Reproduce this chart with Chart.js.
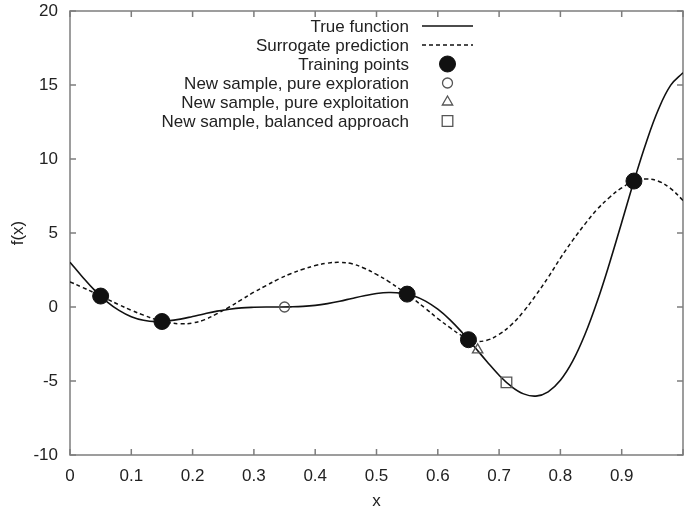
<!DOCTYPE html>
<html>
<head>
<meta charset="utf-8">
<script src="https://cdn.jsdelivr.net/npm/chart.js@4.4.1/dist/chart.umd.min.js"></script>
<style>
  html, body { margin: 0; padding: 0; background: #fff; overflow: hidden; }
  canvas { display: block; }
</style>
</head>
<body>
<canvas id="fx" width="684" height="515"></canvas>
<script>
// x positions of the sampled curves
const xGrid = [0, 0.02, 0.04, 0.06, 0.08, 0.10, 0.12, 0.14, 0.16, 0.18,
  0.20, 0.22, 0.24, 0.26, 0.28, 0.30, 0.32, 0.34, 0.36, 0.38,
  0.40, 0.42, 0.44, 0.46, 0.48, 0.50, 0.52, 0.54, 0.56, 0.58,
  0.60, 0.62, 0.64, 0.66, 0.68, 0.70, 0.72, 0.74, 0.76, 0.78,
  0.80, 0.82, 0.84, 0.86, 0.88, 0.90, 0.92, 0.94, 0.96, 0.98, 1.00];

// true function values
const trueVals = [3.03, 2.05, 1.14, 0.37, -0.23, -0.66, -0.90, -0.99, -0.94, -0.82,
  -0.64, -0.45, -0.28, -0.15, -0.06, -0.02, 0, 0, 0.01, 0.04,
  0.11, 0.23, 0.39, 0.58, 0.76, 0.91, 0.98, 0.94, 0.76, 0.40,
  -0.15, -0.87, -1.74, -2.70, -3.68, -4.61, -5.37, -5.87, -6.02, -5.73,
  -4.95, -3.66, -1.86, 0.37, 2.94, 5.71, 8.51, 11.12, 13.36, 14.99, 15.83];

// surrogate (dashed) values
const surrogateVals = [1.70, 1.33, 0.95, 0.55, 0.15, -0.22, -0.55, -0.85, -1.05, -1.13,
  -1.08, -0.85, -0.45, 0.00, 0.50, 1.00, 1.45, 1.88, 2.25, 2.55,
  2.80, 2.96, 3.02, 2.92, 2.62, 2.20, 1.72, 1.15, 0.55, -0.10,
  -0.78, -1.40, -1.95, -2.30, -2.25, -1.85, -1.20, -0.30, 0.80, 2.00,
  3.30, 4.50, 5.60, 6.60, 7.40, 8.05, 8.50, 8.65, 8.50, 8.00, 7.20];

const trainX = [0.05, 0.15, 0.55, 0.65, 0.92];
const trainY = [0.74, -0.98, 0.87, -2.21, 8.51];
const exploreX = [0.35];
const exploreY = [0.0];
const exploitX = [0.665];
const exploitY = [-2.9];
const balancedX = [0.712];
const balancedY = [-5.09];

const xTicks = [0, 0.1, 0.2, 0.3, 0.4, 0.5, 0.6, 0.7, 0.8, 0.9, 1];
const yTicks = [-10, -5, 0, 5, 10, 15, 20];

const pts = (xs, ys) => xs.map((x, i) => ({ x: x, y: ys[i] }));
const FONT = { family: "'Liberation Sans', Arial, sans-serif", size: 17 };
const INK = '#222';

// gnuplot style frame with ticks pointing inwards
const framePlugin = {
  id: 'frame',
  beforeDatasetsDraw(chart) {
    const { ctx, chartArea: a, scales } = chart;
    ctx.save();
    ctx.strokeStyle = '#7d7d7d';
    ctx.lineWidth = 1.5;
    ctx.strokeRect(a.left, a.top, a.right - a.left, a.bottom - a.top);
    ctx.beginPath();
    xTicks.forEach(v => {
      const px = scales.x.getPixelForValue(v);
      ctx.moveTo(px, a.bottom); ctx.lineTo(px, a.bottom - 6);
      ctx.moveTo(px, a.top); ctx.lineTo(px, a.top + 6);
    });
    yTicks.forEach(v => {
      const py = scales.y.getPixelForValue(v);
      ctx.moveTo(a.left, py); ctx.lineTo(a.left + 6, py);
      ctx.moveTo(a.right, py); ctx.lineTo(a.right - 6, py);
    });
    ctx.stroke();
    ctx.restore();
  }
};

// legend: right aligned text with the sample to its right
const keyPlugin = {
  id: 'key',
  afterDraw(chart) {
    const ctx = chart.ctx;
    const textRight = 409, sampleL = 422, sampleR = 473, top = 26, step = 19;
    ctx.save();
    ctx.font = FONT.size + 'px ' + FONT.family;
    ctx.textAlign = 'right';
    ctx.textBaseline = 'middle';
    chart.data.datasets.forEach((ds, i) => {
      const y = top + i * step;
      ctx.fillStyle = INK;
      ctx.fillText(ds.label, textRight, y + 1);
      if (ds.showLine) {
        ctx.strokeStyle = ds.borderColor;
        ctx.lineWidth = ds.borderWidth;
        ctx.setLineDash(ds.borderDash || []);
        ctx.beginPath();
        ctx.moveTo(sampleL, y); ctx.lineTo(sampleR, y);
        ctx.stroke();
        ctx.setLineDash([]);
      } else {
        ctx.fillStyle = ds.pointBackgroundColor;
        ctx.strokeStyle = ds.pointBorderColor;
        ctx.lineWidth = ds.pointBorderWidth;
        Chart.helpers.drawPoint(ctx, {
          pointStyle: ds.pointStyle, radius: ds.pointRadius, rotation: 0,
          borderWidth: ds.pointBorderWidth
        }, (sampleL + sampleR) / 2, y);
      }
    });
    ctx.restore();
  }
};

// invisible tick marks only push the labels away from the frame
const hiddenGrid = {
  display: true, drawOnChartArea: false, drawTicks: true,
  color: 'rgba(0,0,0,0)', tickColor: 'rgba(0,0,0,0)'
};

new Chart(document.getElementById('fx'), {
  type: 'scatter',
  data: {
    datasets: [
      {
        label: 'True function',
        data: pts(xGrid, trueVals),
        showLine: true, borderColor: '#111', borderWidth: 1.6,
        pointRadius: 0, tension: 0.4, order: 6
      },
      {
        label: 'Surrogate prediction',
        data: pts(xGrid, surrogateVals),
        showLine: true, borderColor: '#111', borderWidth: 1.5, borderDash: [4, 3],
        pointRadius: 0, tension: 0.4, order: 5
      },
      {
        label: 'Training points',
        data: pts(trainX, trainY),
        pointStyle: 'circle', pointRadius: 8,
        pointBackgroundColor: '#111', pointBorderColor: '#111', pointBorderWidth: 1, order: 1
      },
      {
        label: 'New sample, pure exploration',
        data: pts(exploreX, exploreY),
        pointStyle: 'circle', pointRadius: 5,
        pointBackgroundColor: 'rgba(255,255,255,0)', pointBorderColor: '#555', pointBorderWidth: 1.3, order: 2
      },
      {
        label: 'New sample, pure exploitation',
        data: pts(exploitX, exploitY),
        pointStyle: 'triangle', pointRadius: 6,
        pointBackgroundColor: 'rgba(255,255,255,0)', pointBorderColor: '#555', pointBorderWidth: 1.3, order: 3
      },
      {
        label: 'New sample, balanced approach',
        data: pts(balancedX, balancedY),
        pointStyle: 'rect', pointRadius: 7.5,
        pointBackgroundColor: 'rgba(255,255,255,0)', pointBorderColor: '#555', pointBorderWidth: 1.3, order: 4
      }
    ]
  },
  options: {
    responsive: false,
    animation: false,
    layout: { autoPadding: false, padding: { top: 11, right: 1, bottom: 0, left: 0 } },
    plugins: { legend: { display: false }, tooltip: { enabled: false } },
    scales: {
      x: {
        type: 'linear', min: 0, max: 1,
        grid: Object.assign({}, hiddenGrid, { tickLength: 11 }),
        border: { display: false },
        afterBuildTicks: s => { s.ticks = xTicks.map(v => ({ value: v })); },
        afterFit: s => { s.height = 60; },
        ticks: {
          font: FONT, color: INK, padding: 0, maxRotation: 0, autoSkip: false,
          callback: v => (v === 1 ? '' : String(v))
        },
        title: { display: true, text: 'x', font: FONT, color: INK, padding: { top: 2, bottom: 3 } }
      },
      y: {
        type: 'linear', min: -10, max: 20,
        grid: Object.assign({}, hiddenGrid, { tickLength: 12 }),
        border: { display: false },
        afterBuildTicks: s => { s.ticks = yTicks.map(v => ({ value: v })); },
        afterFit: s => { s.width = 70; },
        ticks: { font: FONT, color: INK, padding: 0, autoSkip: false },
        title: { display: true, text: 'f(x)', font: FONT, color: INK, padding: { top: 8, bottom: 0 } }
      }
    }
  },
  plugins: [framePlugin, keyPlugin]
});
</script>
</body>
</html>
